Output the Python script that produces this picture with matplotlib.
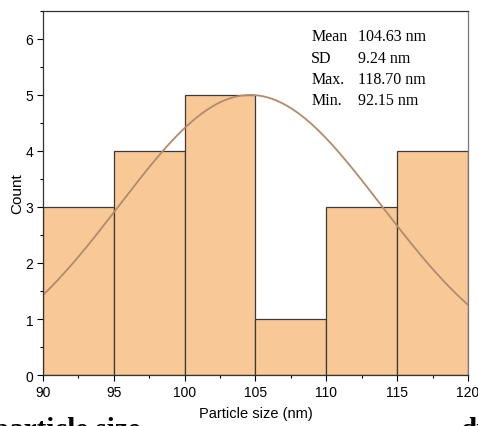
import numpy as np
import matplotlib.pyplot as plt
from matplotlib.ticker import MultipleLocator

# histogram bins (nm) and counts
bin_edges = [90, 95, 100, 105, 110, 115, 120]
counts = [3, 4, 5, 1, 3, 4]

# fit / summary values
mean_nm = 104.63
sd_nm = 9.24
peak = 5.0
stats_labels = ["Mean", "SD", "Max.", "Min."]
stats_values = ["104.63 nm", "9.24 nm", "118.70 nm", "92.15 nm"]

bar_color = "#F9C897"
edge_color = "#3a3a3a"
curve_color = "#B38B69"

fig = plt.figure(figsize=(4.78, 4.27), dpi=100)
ax = fig.add_axes([0.09, 0.1194, 0.889, 0.8526])

lefts = np.array(bin_edges[:-1])
widths = np.diff(bin_edges)
ax.bar(lefts, counts, width=widths, align="edge", color=bar_color,
       edgecolor=edge_color, linewidth=0.9)

xs = np.linspace(90, 120, 300)
ax.plot(xs, peak * np.exp(-(xs - mean_nm) ** 2 / (2 * sd_nm ** 2)),
        color=curve_color, linewidth=1.3)

ax.set_xlim(90, 120)
ax.set_ylim(0, 6.5)
ax.xaxis.set_major_locator(MultipleLocator(5))
ax.xaxis.set_minor_locator(MultipleLocator(2.5))
ax.yaxis.set_major_locator(MultipleLocator(1))
ax.yaxis.set_minor_locator(MultipleLocator(0.5))
ax.tick_params(which="major", direction="out", length=4, width=0.8,
               labelsize=10, pad=3)
ax.tick_params(which="minor", direction="out", length=2.5, width=0.8)
for lab in ax.get_xticklabels() + ax.get_yticklabels():
    lab.set_family("Liberation Sans")
for sp in ax.spines.values():
    sp.set_linewidth(0.9)
    sp.set_color("#333333")
ax.spines["right"].set_color("#777777")

ax.set_xlabel("Particle size (nm)", family="Liberation Sans", fontsize=10.5,
              labelpad=5)
ax.set_ylabel("Count", family="Liberation Sans", fontsize=11, labelpad=1)

for i, (k, v) in enumerate(zip(stats_labels, stats_values)):
    y = 0.93 - i * 0.058
    ax.text(0.631, y, k, transform=ax.transAxes, family="Liberation Serif",
            fontsize=11.5, va="center")
    ax.text(0.742, y, v, transform=ax.transAxes, family="Liberation Serif",
            fontsize=11.5, va="center")

# surrounding page text, cut off by the crop
fig.text(-0.014, -0.026, "particle size", family="Liberation Serif",
         fontweight="bold", fontsize=21, va="baseline")
fig.text(0.964, -0.026, "di", family="Liberation Serif",
         fontweight="bold", fontsize=21, va="baseline")

fig.savefig("out.png", dpi=100)
